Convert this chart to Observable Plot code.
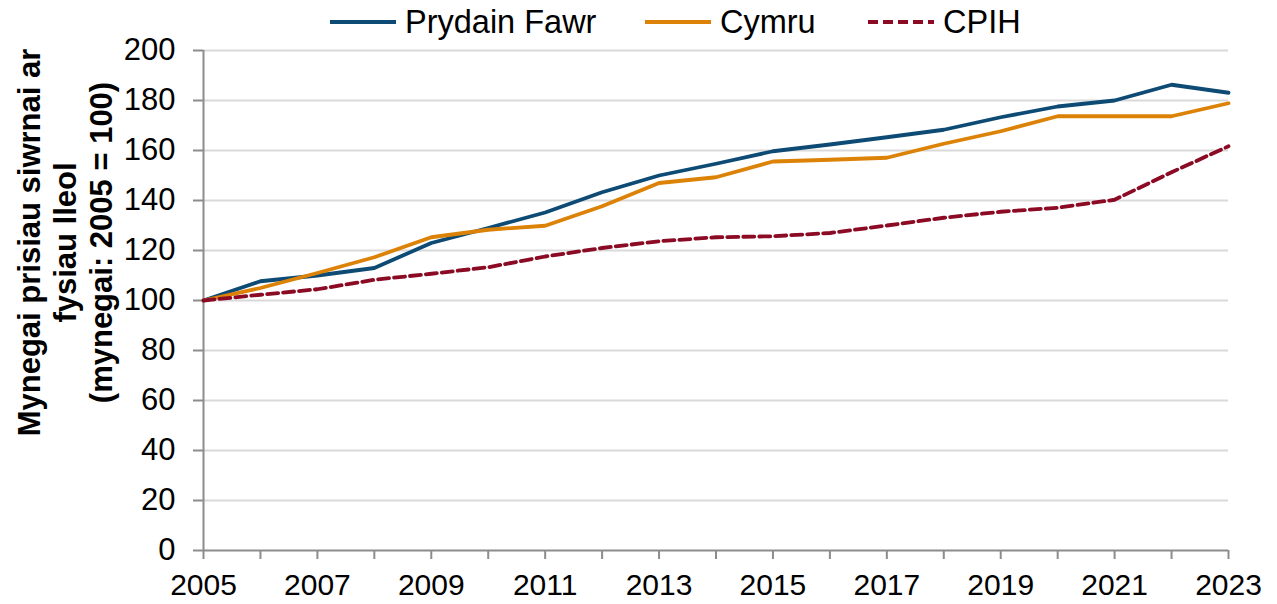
<!DOCTYPE html>
<html>
<head>
<meta charset="utf-8">
<script src="https://cdn.jsdelivr.net/npm/d3@7"></script>
<script src="https://cdn.jsdelivr.net/npm/@observablehq/plot@0.6"></script>
<style>
  body { margin: 0; background: #fff; font-family: "Liberation Sans", Arial, sans-serif; }
  #wrap { position: relative; width: 1277px; height: 604px; overflow: hidden; }
  #legend { position: relative; height: 44px; width: 1277px; }
  .item { position: absolute; top: 0; height: 44px; display: flex; align-items: center; }
  .item span { font-size: 32.5px; color: #000; margin-left: 9px; line-height: 44px; }
  #chart svg { overflow: visible; display: block; }
</style>
</head>
<body>
<div id="wrap">
  <div id="legend"></div>
  <div id="chart"></div>
</div>
<script>
const years = [2005,2006,2007,2008,2009,2010,2011,2012,2013,2014,2015,2016,2017,2018,2019,2020,2021,2022,2023];
const prydainFawr = [100,107.7,110,113,123,129,135.2,143.3,150,154.7,159.7,162.4,165.3,168.3,173.3,177.6,180,186.3,183.1];
const cymru = [100,105,111,117.3,125.3,128.3,129.9,137.7,147,149.3,155.6,156.3,157.1,162.7,167.7,173.7,173.7,173.7,178.9];
const cpih = [100,102.3,104.5,108.3,110.7,113.3,117.6,121,123.7,125.3,125.7,127,130,133.1,135.5,137.1,140.3,151.3,161.7];
const seriesNames = ["Prydain Fawr", "Cymru", "CPIH"];
const yTicks = [0,20,40,60,80,100,120,140,160,180,200];
const yLabel = "Mynegai prisiau siwrnai ar\nfysiau lleol\n(mynegai: 2005 = 100)";

const colors = ["#0d4a74", "#dc8206", "#8b0a24"];
const dashes = [null, null, "11,5"];
const seriesValues = [prydainFawr, cymru, cpih];

const rows = [];
seriesNames.forEach((name, i) => {
  years.forEach((yr, j) => rows.push({series: name, year: yr, value: seriesValues[i][j]}));
});

// Legend
const legendLeft = [330, 645, 868];
const legend = document.getElementById("legend");
seriesNames.forEach((name, i) => {
  const div = document.createElement("div");
  div.className = "item";
  div.style.left = legendLeft[i] + "px";
  const dash = dashes[i] ? `stroke-dasharray="10,5"` : "";
  div.innerHTML = `<svg width="66" height="8"><line x1="0" x2="66" y1="4" y2="4" stroke="${colors[i]}" stroke-width="4" ${dash}/></svg><span>${name}</span>`;
  legend.appendChild(div);
});

const axisGray = "#8c8c8c";
const chart = Plot.plot({
  width: 1277,
  height: 560,
  marginTop: 6,
  marginBottom: 54,
  marginLeft: 203,
  marginRight: 49,
  style: { fontFamily: "'Liberation Sans', Arial, sans-serif", fontSize: "31px", color: "#000", background: "white", overflow: "visible" },
  x: { domain: [2005, 2023] },
  y: { domain: [0, 200] },
  marks: [
    Plot.gridY(yTicks.filter(d => d > 0), { stroke: "#d9d9d9", strokeOpacity: 1, strokeWidth: 2 }),
    Plot.axisY({ ticks: yTicks, tickSize: 10, tickPadding: 18, stroke: axisGray, strokeWidth: 2, label: null, fontSize: 31 }),
    Plot.axisX({ ticks: years, tickSize: 9, tickPadding: 14, stroke: axisGray, strokeWidth: 2, label: null, fontSize: 30,
      tickFormat: d => (d % 2 === 1 ? String(d) : "") }),
    Plot.ruleY([0], { stroke: axisGray, strokeWidth: 2 }),
    Plot.ruleX([2005], { stroke: axisGray, strokeWidth: 2 }),
    ...seriesNames.map((name, i) => Plot.line(rows.filter(r => r.series === name), {
      x: "year", y: "value", stroke: colors[i], strokeWidth: 3.8,
      strokeDasharray: dashes[i] || undefined, strokeLinejoin: "round"
    })),
    Plot.text([yLabel], { text: d => d, frameAnchor: "left", rotate: -90, textAnchor: "middle",
      dx: -139, dy: -58, fontSize: 31, fontWeight: "bold", lineHeight: 1.17, fill: "#000" })
  ]
});
document.getElementById("chart").appendChild(chart);
</script>
</body>
</html>
